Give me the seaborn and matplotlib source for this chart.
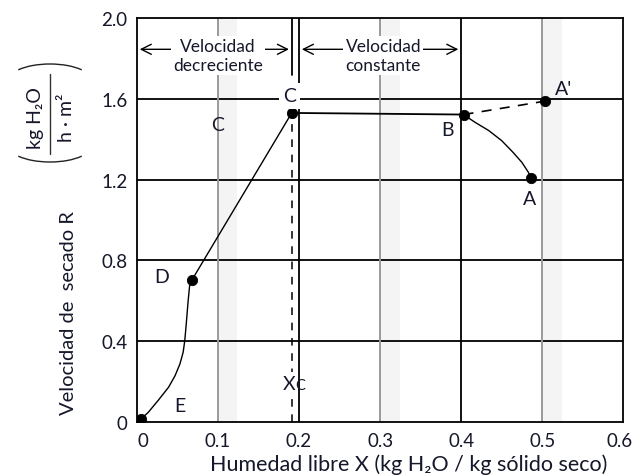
import matplotlib
matplotlib.use("Agg")
import matplotlib.pyplot as plt
from matplotlib.patches import Arc
from matplotlib.transforms import ScaledTranslation
import seaborn as sns
import pandas as pd

# Drying-rate curve readings: free moisture X (kg H2O / kg dry solid) vs rate R
falling_x = [0.005, 0.014, 0.026, 0.039, 0.047, 0.053, 0.057, 0.059, 0.061, 0.063, 0.065, 0.068]
falling_r = [0.015, 0.048, 0.106, 0.172, 0.229, 0.287, 0.345, 0.402, 0.493, 0.592, 0.675, 0.704]
first_fall_x = [0.068, 0.191]
first_fall_r = [0.704, 1.530]
constant_x = [0.191, 0.403]
constant_r = [1.530, 1.522]
warmup_x = [0.403, 0.417, 0.434, 0.450, 0.464, 0.475, 0.483, 0.486]
warmup_r = [1.522, 1.484, 1.443, 1.393, 1.335, 1.285, 1.236, 1.208]
warmup_hot_x = [0.403, 0.503]
warmup_hot_r = [1.522, 1.588]

point_x = [0.005, 0.068, 0.191, 0.403, 0.486, 0.503]
point_r = [0.015, 0.704, 1.530, 1.522, 1.208, 1.588]

x_critical = 0.191
x_ticks = [0, 0.1, 0.2, 0.3, 0.4, 0.5, 0.6]
x_tick_labels = ["0", "0.1", "0.2", "0.3", "0.4", "0.5", "0.6"]
y_ticks = [0, 0.4, 0.8, 1.2, 1.6, 2.0]
y_tick_labels = ["0", "0.4", "0.8", "1.2", "1.6", "2.0"]

sns.set_theme(style="white")
plt.rcParams["font.family"] = ["Lato", "DejaVu Sans"]
TXT = "#15172a"
W, H = 634, 477


def px(x, y):
    """Figure-fraction position from pixel offsets (top-left origin)."""
    return x / W, 1 - y / H


fig = plt.figure(figsize=(W / 100, H / 100), dpi=100)
ax = fig.add_axes([0.216, 0.1132, 0.767, 0.847])
ax.set_xlim(0, 0.6)
ax.set_ylim(0, 2.0)

# grid: black at 0.2 / 0.4 and every R line, soft grey at 0.1 / 0.3 / 0.5
for yv in [0.4, 0.8, 1.2, 1.6]:
    ax.axhline(yv, color="black", lw=1.3, zorder=1)
for xv in [0.2, 0.4]:
    ax.axvline(xv, color="black", lw=1.3, zorder=1)
for xv in [0.1, 0.3, 0.5]:
    ax.axvspan(xv, xv + 0.024, color="#f4f4f4", lw=0, zorder=0)
    ax.axvline(xv, color="#9a9a9a", lw=1.4, zorder=1)

# critical moisture marker
ax.plot([x_critical, x_critical], [1.72, 2.0], color="black", lw=1.3, zorder=1)
ax.plot([x_critical, x_critical], [0, point_r[2]], color="black", lw=1.1,
        ls=(0, (5, 5)), zorder=1)

line_kw = dict(color="black", sort=False, estimator=None, legend=False, ax=ax)
sns.lineplot(data=pd.DataFrame({"x": falling_x, "r": falling_r}), x="x", y="r", lw=1.0, **line_kw)
sns.lineplot(data=pd.DataFrame({"x": first_fall_x, "r": first_fall_r}), x="x", y="r", lw=1.0, **line_kw)
sns.lineplot(data=pd.DataFrame({"x": constant_x, "r": constant_r}), x="x", y="r", lw=1.3, **line_kw)
sns.lineplot(data=pd.DataFrame({"x": warmup_x, "r": warmup_r}), x="x", y="r", lw=1.0, **line_kw)
sns.lineplot(data=pd.DataFrame({"x": warmup_hot_x, "r": warmup_hot_r}), x="x", y="r",
             lw=1.2, linestyle=(0, (6, 5)), **line_kw)
sns.scatterplot(x=point_x, y=point_r, color="black", s=55, edgecolor="black",
                zorder=5, ax=ax, legend=False)

# period arrows
arrow_kw = dict(arrowstyle="<->,head_length=0.6,head_width=0.3", color="black", lw=1.0)
ax.annotate("", xy=(0, 1.845), xytext=(x_critical, 1.845), arrowprops=arrow_kw)
ax.annotate("", xy=(0.2, 1.845), xytext=(0.4, 1.845), arrowprops=arrow_kw)
ax.text(0.1, 1.815, "Velocidad\ndecreciente", ha="center", va="center", fontsize=12.5,
        color=TXT, linespacing=1.2, zorder=4,
        bbox=dict(facecolor="white", edgecolor="none", pad=1.5))
ax.text(0.304, 1.815, "Velocidad\nconstante", ha="center", va="center", fontsize=12.5,
        color=TXT, linespacing=1.2, zorder=4,
        bbox=dict(facecolor="white", edgecolor="none", pad=1.5))

# point labels
lab_kw = dict(ha="center", va="center", fontsize=14, color=TXT, zorder=6)
ax.text(0.1, 1.475, "C", **lab_kw)
ax.text(0.188, 1.614, "C", bbox=dict(facecolor="white", edgecolor="none", pad=3), **lab_kw)
ax.text(0.383, 1.45, "B", **lab_kw)
ax.text(0.485, 1.104, "A", **lab_kw)
ax.text(0.527, 1.65, "A'", **lab_kw)
ax.text(0.030, 0.718, "D", **lab_kw)
ax.text(0.053, 0.080, "E", **lab_kw)
ax.text(x_critical + 0.004, 0.19, "X", ha="right", va="center", fontsize=14, color=TXT,
        zorder=6, bbox=dict(facecolor="white", edgecolor="none", pad=2))
ax.text(x_critical + 0.004, 0.183, "C", ha="left", va="center", fontsize=10.5, color=TXT,
        zorder=6)

ax.set_xticks(x_ticks)
ax.set_xticklabels(x_tick_labels)
ax.set_yticks(y_ticks)
ax.set_yticklabels(y_tick_labels)
ax.tick_params(length=0, labelsize=13.5, colors=TXT, pad=7)
ax.grid(False)
for sp in ax.spines.values():
    sp.set_color("black")
    sp.set_linewidth(1.3)

# keep the first and last x labels clear of the frame edges
xlabels = ax.get_xticklabels()
xlabels[0].set_transform(xlabels[0].get_transform() + ScaledTranslation(0.06, 0, fig.dpi_scale_trans))
xlabels[-1].set_transform(xlabels[-1].get_transform() + ScaledTranslation(-0.04, 0, fig.dpi_scale_trans))

ax.set_xlabel("")
ax.set_ylabel("")
fig.text(*px(409, 465), "Humedad libre X (kg H\u2082O / kg sólido seco)", ha="center",
         va="center", fontsize=15.5, color=TXT)
fig.text(*px(68, 313), "Velocidad de  secado R", rotation=90, ha="center", va="center",
         fontsize=14.5, color=TXT)

# units of R as a stacked fraction between curved brackets
fig.text(*px(36, 118), "kg H\u2082O", rotation=90, ha="center", va="center",
         fontsize=14, color=TXT)
fig.text(*px(66, 118), "h \u00b7 m\u00b2", rotation=90, ha="center", va="center",
         fontsize=14, color=TXT)
fig.add_artist(plt.Line2D([px(50, 0)[0]] * 2, [px(0, 75)[1], px(0, 155)[1]],
                          transform=fig.transFigure, color="#333333", lw=1.0))
for cy, t1, t2 in [(82, 25, 155), (146, 205, 335)]:
    fig.add_artist(Arc(px(50, cy), 84 / W, 34 / H, theta1=t1, theta2=t2,
                       transform=fig.transFigure, color="#222222", lw=1.0))

fig.savefig("out.png", dpi=100)
